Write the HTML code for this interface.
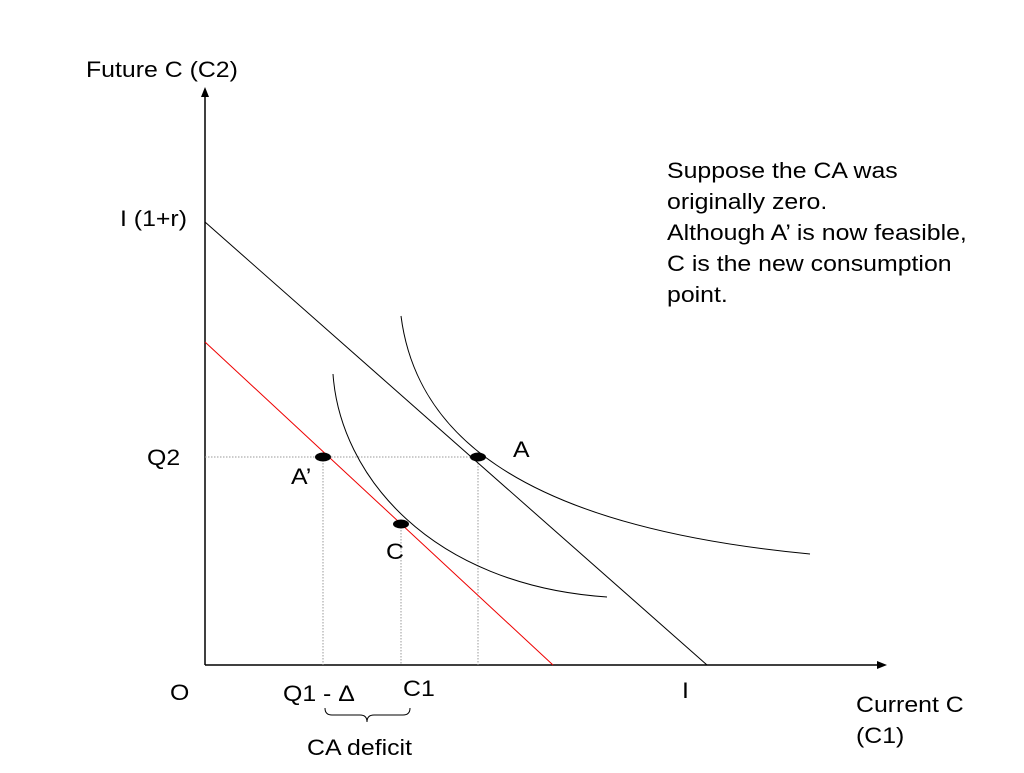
<!DOCTYPE html>
<html><head><meta charset="utf-8"><style>
html,body{margin:0;padding:0;background:#fff;}
svg text{font-family:"Liberation Sans",sans-serif;fill:#000;}
</style></head><body>
<svg id="chart" width="1024" height="768" viewBox="0 0 1024 768" xmlns="http://www.w3.org/2000/svg">
<g id="marks"></g>
<g id="labels" font-size="22">
<text x="86" y="77">Future C (C2)</text>
<text x="120" y="226">I (1+r)</text>
<text x="147" y="465">Q2</text>
<text x="170" y="700">O</text>
<text x="283" y="701">Q1 - Δ</text>
<text x="403" y="696">C1</text>
<text x="682" y="698">I</text>
<text x="856" y="712">Current C</text>
<text x="856" y="743">(C1)</text>
<text x="307" y="755">CA deficit</text>
<text x="513" y="457">A</text>
<text x="291" y="484">A’</text>
<text x="386" y="559">C</text>
<text x="667" y="178">Suppose the CA was</text>
<text x="667" y="209">originally zero.</text>
<text x="667" y="240">Although A’ is now feasible,</text>
<text x="667" y="271">C is the new consumption</text>
<text x="667" y="302">point.</text>
</g>
</svg>
<script>
const budgetOld = [[0, 88.6], [100.4, 0]];
const budgetNew = [[0, 64.6], [69.6, 0]];
const pointNames = ["A", "A-prime", "C"];
const pointX = [54.6, 23.6, 39.2];
const pointY = [41.6, 41.6, 28.2];
const curve1 = [[39.2, 69.8], [42, 48], [60, 28], [121, 22.2]];
const curve2 = [[25.6, 58.2], [27, 38], [45, 16], [80.4, 13.6]];

const xs = v => 205 + v * 5;
const ys = v => 665 - v * 5;
const NS = "http://www.w3.org/2000/svg";
const g = document.getElementById("marks");
function mk(tag, attrs) {
  const e = document.createElementNS(NS, tag);
  for (const k in attrs) e.setAttribute(k, attrs[k]);
  g.appendChild(e);
  return e;
}
document.querySelectorAll("#labels text").forEach(t => {
  const x = t.getAttribute("x");
  t.setAttribute("transform", "translate(" + x + ",0) scale(1.13,1) translate(" + (-x) + ",0)");
});
let e;
e = mk("line", {x1: 205, y1: 665, x2: 205, y2: 95, stroke: "#000", "stroke-width": 1.5});


e = mk("polygon", {points: "205,87 201,97 209,97", fill: "#000"});


e = mk("line", {x1: 205, y1: 665, x2: 878, y2: 665, stroke: "#000", "stroke-width": 1.5});


e = mk("polygon", {points: "887,665 877,661 877,669", fill: "#000"});


e = mk("line", {x1: xs(0), y1: ys(pointY[0]), x2: xs(pointX[0]), y2: ys(pointY[0]), stroke: "#999", "stroke-width": 1, "stroke-dasharray": "1.5,1.5"});


for (let i = 0; i < pointX.length; i++) {
  e = mk("line", {x1: xs(pointX[i]), y1: ys(pointY[i]), x2: xs(pointX[i]), y2: ys(0), stroke: "#999", "stroke-width": 1, "stroke-dasharray": "1.5,1.5"});
  
  
}
e = mk("line", {x1: xs(budgetOld[0][0]), y1: ys(budgetOld[0][1]), x2: xs(budgetOld[1][0]), y2: ys(budgetOld[1][1]), stroke: "#000", "stroke-width": 1});


e = mk("line", {x1: xs(budgetNew[0][0]), y1: ys(budgetNew[0][1]), x2: xs(budgetNew[1][0]), y2: ys(budgetNew[1][1]), stroke: "#e00", "stroke-width": 1});


function cd(c) {
  return "M" + xs(c[0][0]) + "," + ys(c[0][1]) + " C" + c.slice(1).map(p => xs(p[0]) + "," + ys(p[1])).join(" ");
}
e = mk("path", {d: cd(curve1), fill: "none", stroke: "#000", "stroke-width": 1});


e = mk("path", {d: cd(curve2), fill: "none", stroke: "#000", "stroke-width": 1});


for (let i = 0; i < pointX.length; i++) {
  e = mk("ellipse", {cx: xs(pointX[i]), cy: ys(pointY[i]), rx: 8, ry: 4.5, fill: "#000"});
  
  
}
e = mk("path", {d: "M325,708 Q325,715 332,715 L360,715 Q367,715 367,722 Q367,715 374,715 L403,715 Q410,715 410,708", fill: "none", stroke: "#000", "stroke-width": 1});


</script>
</body></html>
